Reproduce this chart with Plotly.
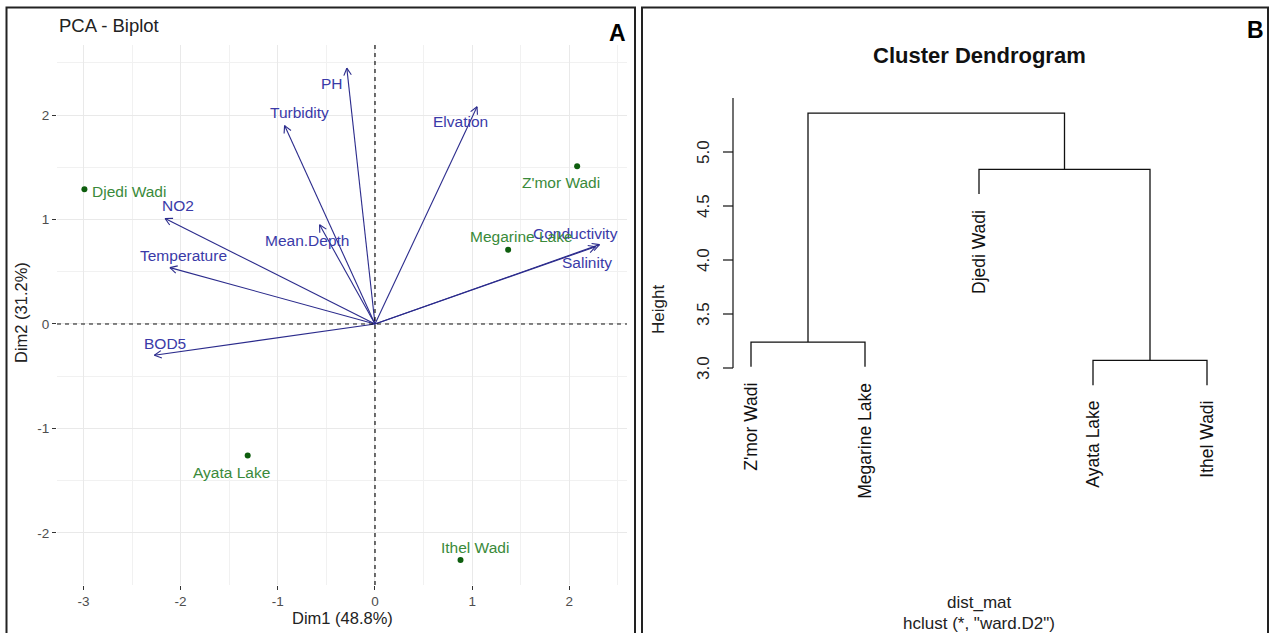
import math
import plotly.graph_objects as go

W, H = 1269, 633
FONT = "Liberation Sans, Arial, sans-serif"

# ---- PCA biplot data ----
sites = ["Djedi Wadi", "Z'mor Wadi", "Megarine Lake", "Ayata Lake", "Ithel Wadi"]
site_dim1 = [-2.99, 2.08, 1.37, -1.31, 0.88]
site_dim2 = [1.29, 1.51, 0.71, -1.26, -2.26]

variables = ["PH", "Turbidity", "Elvation", "NO2", "Mean.Depth",
             "Temperature", "Conductivity", "Salinity", "BOD5"]
var_dim1 = [-0.29, -0.93, 1.05, -2.16, -0.57, -2.11, 2.31, 2.27, -2.27]
var_dim2 = [2.45, 1.90, 2.08, 1.01, 0.95, 0.54, 0.76, 0.74, -0.30]

dim1_ticks = [-3, -2, -1, 0, 1, 2]
dim2_ticks = [-2, -1, 0, 1, 2]

# ---- hierarchical clustering (R-style merge list, ward.D2) ----
leaf_order = ["Z'mor Wadi", "Megarine Lake", "Djedi Wadi", "Ayata Lake", "Ithel Wadi"]
merges = [("Ayata Lake", "Ithel Wadi"), ("Z'mor Wadi", "Megarine Lake"),
          ("Djedi Wadi", 1), (2, 3)]
merge_heights = [3.07, 3.24, 4.84, 5.36]
height_ticks = [3.0, 3.5, 4.0, 4.5, 5.0]
height_axis_top = 5.5

# label offsets in pixels (dx, dy up) and anchors
site_label_style = {
    "Djedi Wadi": (6, -2, "left"),
    "Z'mor Wadi": (-16, -16, "center"),
    "Megarine Lake": (13, 13, "center"),
    "Ayata Lake": (-16, -17, "center"),
    "Ithel Wadi": (14, 12, "center"),
}
var_label_style = {
    "PH": (-15, -15), "Turbidity": (15, 13), "Elvation": (-17, -15),
    "NO2": (13, 13), "Mean.Depth": (-13, -16), "Temperature": (14, 12),
    "Conductivity": (-24, 11), "Salinity": (-9, -16), "BOD5": (11, 12),
}

VAR_TEXT = "#3A3AA8"
VAR_LINE = "#2B2B8C"
IND_TEXT = "#3A8A3A"
IND_DOT = "#0E5E0E"

# ---- left panel geometry (pixels) ----
L_px = (57, 627)      # x extent
L_py = (45, 585)      # y extent (top, bottom)
x_rng = [-3.272, 2.593]
y_rng = [-2.5, 2.672]
sx = (L_px[1] - L_px[0]) / (x_rng[1] - x_rng[0])
sy = (L_py[1] - L_py[0]) / (y_rng[1] - y_rng[0])

fig = go.Figure()

# arrows for variables
ax_x, ax_y = [], []
head_len, head_ang = 8.0, math.radians(28)
for vx, vy in zip(var_dim1, var_dim2):
    ax_x += [0, vx, None]
    ax_y += [0, vy, None]
    px, py = vx * sx, vy * sy
    n = math.hypot(px, py)
    ux, uy = px / n, py / n
    for s in (1, -1):
        c, sn = math.cos(s * head_ang), math.sin(s * head_ang)
        rx, ry = ux * c - uy * sn, ux * sn + uy * c
        hx = vx - head_len * rx / sx
        hy = vy - head_len * ry / sy
        ax_x += [hx, vx, None]
        ax_y += [hy, vy, None]
fig.add_trace(go.Scatter(x=ax_x, y=ax_y, mode="lines",
                         line=dict(color=VAR_LINE, width=1.1),
                         hoverinfo="skip", showlegend=False,
                         xaxis="x", yaxis="y"))

# individuals
fig.add_trace(go.Scatter(x=site_dim1, y=site_dim2, mode="markers",
                         marker=dict(color=IND_DOT, size=6),
                         showlegend=False, xaxis="x", yaxis="y"))


def paper_text(px, py, text, size, color="#222", angle=0, xanchor="center"):
    return dict(x=px / W, y=1 - py / H, xref="paper", yref="paper", text=text,
                showarrow=False, textangle=angle, xanchor=xanchor, yanchor="middle",
                font=dict(family=FONT, size=size, color=color))


annotations = []
for name, vx, vy in zip(variables, var_dim1, var_dim2):
    dx, dy = var_label_style[name]
    annotations.append(dict(x=vx, y=vy, xref="x", yref="y", text=name,
                            showarrow=False, xshift=dx, yshift=dy,
                            xanchor="center", yanchor="middle",
                            font=dict(family=FONT, size=15.5, color=VAR_TEXT)))
for name, sx_, sy_ in zip(sites, site_dim1, site_dim2):
    dx, dy, anc = site_label_style[name]
    annotations.append(dict(x=sx_, y=sy_, xref="x", yref="y", text=name,
                            showarrow=False, xshift=dx, yshift=dy,
                            xanchor=anc, yanchor="middle",
                            font=dict(family=FONT, size=15.5, color=IND_TEXT)))

# axis titles and panel titles for the biplot
annotations += [
    paper_text((L_px[0] + L_px[1]) / 2, 618, "Dim1 (48.8%)", 16.5),
    paper_text(21, 313, "Dim2 (31.2%)", 16.5, angle=-90),
    paper_text(L_px[0], 25, "PCA - Biplot", 18.5, xanchor="left"),
    paper_text(617, 33, "<b>A</b>", 23, color="#000"),
    paper_text(1255, 30, "<b>B</b>", 23, color="#000"),
]

# ---- dendrogram ----
R_px = (690, 1260)
R_py = (60, 520)
leaf_px0, leaf_step = 751, 114
x2_rng = [(R_px[0] - leaf_px0) / leaf_step + 1, (R_px[1] - leaf_px0) / leaf_step + 1]
h_px0, h_step = 368, 108   # pixel of height 3.0, pixels per unit
y2_rng = [3 + (h_px0 - R_py[1]) / h_step, 3 + (h_px0 - R_py[0]) / h_step]

hang = 0.1 * (max(merge_heights) - min(merge_heights))
node_x, node_h = {}, {}
dx_, dy_ = [], []
leaf_end = {}
for i, (a, b) in enumerate(merges, start=1):
    h = merge_heights[i - 1]
    pts = []
    for c in (a, b):
        if isinstance(c, str):
            cx = leaf_order.index(c) + 1
            cb = h - hang
            leaf_end[c] = (cx, cb)
        else:
            cx, cb = node_x[c], node_h[c]
        pts.append((cx, cb))
    (xa, ya), (xb, yb) = pts
    dx_ += [xa, xa, xb, xb, None]
    dy_ += [ya, h, h, yb, None]
    node_x[i] = (xa + xb) / 2
    node_h[i] = h

fig.add_trace(go.Scatter(x=dx_, y=dy_, mode="lines",
                         line=dict(color="#111", width=1.3),
                         hoverinfo="skip", showlegend=False,
                         xaxis="x2", yaxis="y2"))

# height axis drawn R-style
axis_x = (733 - leaf_px0) / leaf_step + 1
tick_dx = 10 / leaf_step
hx, hy = [axis_x, axis_x, None], [height_ticks[0], height_axis_top, None]
for t in height_ticks:
    hx += [axis_x - tick_dx, axis_x, None]
    hy += [t, t, None]
fig.add_trace(go.Scatter(x=hx, y=hy, mode="lines",
                         line=dict(color="#111", width=1.2),
                         hoverinfo="skip", showlegend=False,
                         xaxis="x2", yaxis="y2"))
for t in height_ticks:
    annotations.append(dict(x=(703 - leaf_px0) / leaf_step + 1, y=t, xref="x2", yref="y2",
                            text=f"{t:.1f}", showarrow=False, textangle=-90,
                            xanchor="center", yanchor="middle",
                            font=dict(family=FONT, size=17, color="#222")))
for name in leaf_order:
    cx, cb = leaf_end[name]
    annotations.append(dict(x=cx, y=cb, xref="x2", yref="y2", text=name,
                            showarrow=False, textangle=-90,
                            xanchor="center", yanchor="top", yshift=-14,
                            font=dict(family=FONT, size=17.5, color="#111")))
center_px = leaf_px0 + leaf_step * (len(leaf_order) - 1) / 2
annotations += [
    paper_text(center_px, 55, "<b>Cluster Dendrogram</b>", 22, color="#111"),
    paper_text(center_px, 602, "dist_mat", 17),
    paper_text(center_px, 623, 'hclust (*, "ward.D2")', 17),
    paper_text(658, 310, "Height", 17, angle=-90),
]

shapes = [
    # reference lines through the origin
    dict(type="line", xref="x", yref="y domain", x0=0, x1=0, y0=0, y1=1,
         line=dict(color="#111", width=1.2, dash="4px,4px")),
    dict(type="line", xref="x domain", yref="y", x0=0, x1=1, y0=0, y1=0,
         line=dict(color="#111", width=1.2, dash="4px,4px")),
    # panel frames
    dict(type="rect", xref="paper", yref="paper",
         x0=6.5 / W, x1=635 / W, y0=-0.02, y1=1 - 7.5 / H,
         line=dict(color="#222", width=2), layer="above"),
    dict(type="rect", xref="paper", yref="paper",
         x0=642 / W, x1=1268 / W, y0=-0.02, y1=1 - 7.5 / H,
         line=dict(color="#222", width=2), layer="above"),
]

tickfont = dict(family=FONT, size=13.5, color="#4D4D4D")
fig.update_layout(
    width=W, height=H, margin=dict(l=0, r=0, t=0, b=0),
    paper_bgcolor="white", plot_bgcolor="white",
    font=dict(family=FONT), showlegend=False,
    annotations=annotations, shapes=shapes,
    xaxis=dict(domain=[L_px[0] / W, L_px[1] / W], range=x_rng, anchor="y",
               tickmode="array", tickvals=dim1_ticks,
               ticktext=[str(v) for v in dim1_ticks],
               ticks="outside", ticklen=4, tickcolor="#333", tickwidth=1,
               showline=False, zeroline=False,
               showgrid=True, gridcolor="#E9E9E9", gridwidth=1,
               minor=dict(tickmode="linear", tick0=0.5, dtick=1, showgrid=True,
                          gridcolor="#F1F1F1", gridwidth=1),
               tickfont=tickfont),
    yaxis=dict(domain=[1 - L_py[1] / H, 1 - L_py[0] / H], range=y_rng, anchor="x",
               tickmode="array", tickvals=dim2_ticks,
               ticktext=[str(v) for v in dim2_ticks],
               ticks="outside", ticklen=4, tickcolor="#333", tickwidth=1,
               showline=False, zeroline=False,
               showgrid=True, gridcolor="#E9E9E9", gridwidth=1,
               minor=dict(tickmode="linear", tick0=0.5, dtick=1, showgrid=True,
                          gridcolor="#F1F1F1", gridwidth=1),
               tickfont=tickfont),
    xaxis2=dict(domain=[R_px[0] / W, R_px[1] / W], range=x2_rng, anchor="y2",
                visible=False),
    yaxis2=dict(domain=[1 - R_py[1] / H, 1 - R_py[0] / H], range=y2_rng, anchor="x2",
                visible=False),
)

fig.write_html("out.html")
